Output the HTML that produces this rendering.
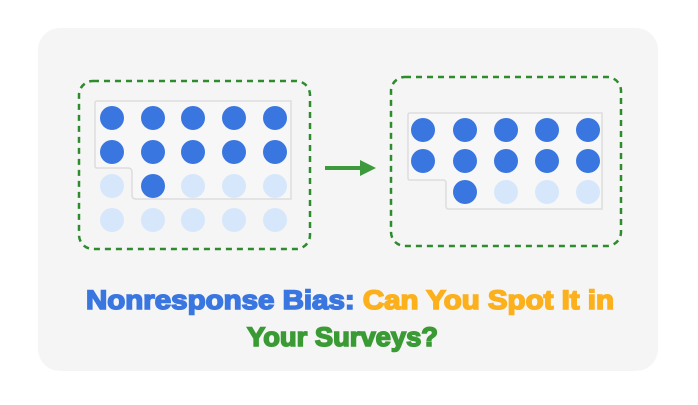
<!DOCTYPE html>
<html><head><style>body{margin:0;background:#fff}</style></head><body>
<svg width="698" height="400" viewBox="0 0 698 400" xmlns="http://www.w3.org/2000/svg">
<rect x="38" y="28" width="620" height="343" rx="22" fill="#f5f5f5"/>
<rect x="79" y="81" width="231" height="168" rx="14" fill="none" stroke="#2e8b2e" stroke-width="2.5" stroke-dasharray="6,5"/>
<path d="M97 101 H291 V199 H136 Q132 199 132 195 V172 Q132 168 128 168 H97 Q95 168 95 166 V103 Q95 101 97 101Z" fill="#f7f7f7" stroke="#ddd" stroke-width="1.5"/>
<g fill="#3a76e0">
<circle cx="112" cy="118" r="12"/><circle cx="153" cy="118" r="12"/><circle cx="193" cy="118" r="12"/><circle cx="234" cy="118" r="12"/><circle cx="275" cy="118" r="12"/>
<circle cx="112" cy="152" r="12"/><circle cx="153" cy="152" r="12"/><circle cx="193" cy="152" r="12"/><circle cx="234" cy="152" r="12"/><circle cx="275" cy="152" r="12"/>
<circle cx="153" cy="186" r="12"/>
</g>
<g fill="#d6e7fb">
<circle cx="112" cy="186" r="12"/><circle cx="193" cy="186" r="12"/><circle cx="234" cy="186" r="12"/><circle cx="275" cy="186" r="12"/>
<circle cx="112" cy="220" r="12"/><circle cx="153" cy="220" r="12"/><circle cx="193" cy="220" r="12"/><circle cx="234" cy="220" r="12"/><circle cx="275" cy="220" r="12"/>
</g>
<line x1="325" y1="168" x2="362" y2="168" stroke="#3c9a3c" stroke-width="4"/>
<polygon points="360,160 376,168 360,176" fill="#3c9a3c"/>
<rect x="391" y="77" width="230" height="169" rx="14" fill="none" stroke="#2e8b2e" stroke-width="2.5" stroke-dasharray="6,5"/>
<path d="M410 113 H602 V209 H449 Q446 209 446 206 V183 Q446 180 443 180 H410 Q408 180 408 178 V115 Q408 113 410 113Z" fill="#f7f7f7" stroke="#ddd" stroke-width="1.5"/>
<g fill="#3a76e0">
<circle cx="423" cy="130" r="12"/><circle cx="465" cy="130" r="12"/><circle cx="506" cy="130" r="12"/><circle cx="547" cy="130" r="12"/><circle cx="588" cy="130" r="12"/>
<circle cx="423" cy="161" r="12"/><circle cx="465" cy="161" r="12"/><circle cx="506" cy="161" r="12"/><circle cx="547" cy="161" r="12"/><circle cx="588" cy="161" r="12"/>
<circle cx="465" cy="192" r="12"/>
</g>
<g fill="#d6e7fb">
<circle cx="506" cy="192" r="12"/><circle cx="547" cy="192" r="12"/><circle cx="588" cy="192" r="12"/>
</g>
<text x="86" y="309" font-family="Liberation Sans, sans-serif" font-weight="bold" font-size="27" textLength="528" lengthAdjust="spacingAndGlyphs" stroke-width="1.6"><tspan fill="#3a76e0" stroke="#3a76e0">Nonresponse Bias: </tspan><tspan fill="#fbb01c" stroke="#fbb01c">Can You Spot It in</tspan></text>
<text x="247" y="346" font-family="Liberation Sans, sans-serif" font-weight="bold" font-size="27" textLength="191" lengthAdjust="spacingAndGlyphs" fill="#3a9a34" stroke="#3a9a34" stroke-width="1.6">Your Surveys?</text>
</svg>
</body></html>
